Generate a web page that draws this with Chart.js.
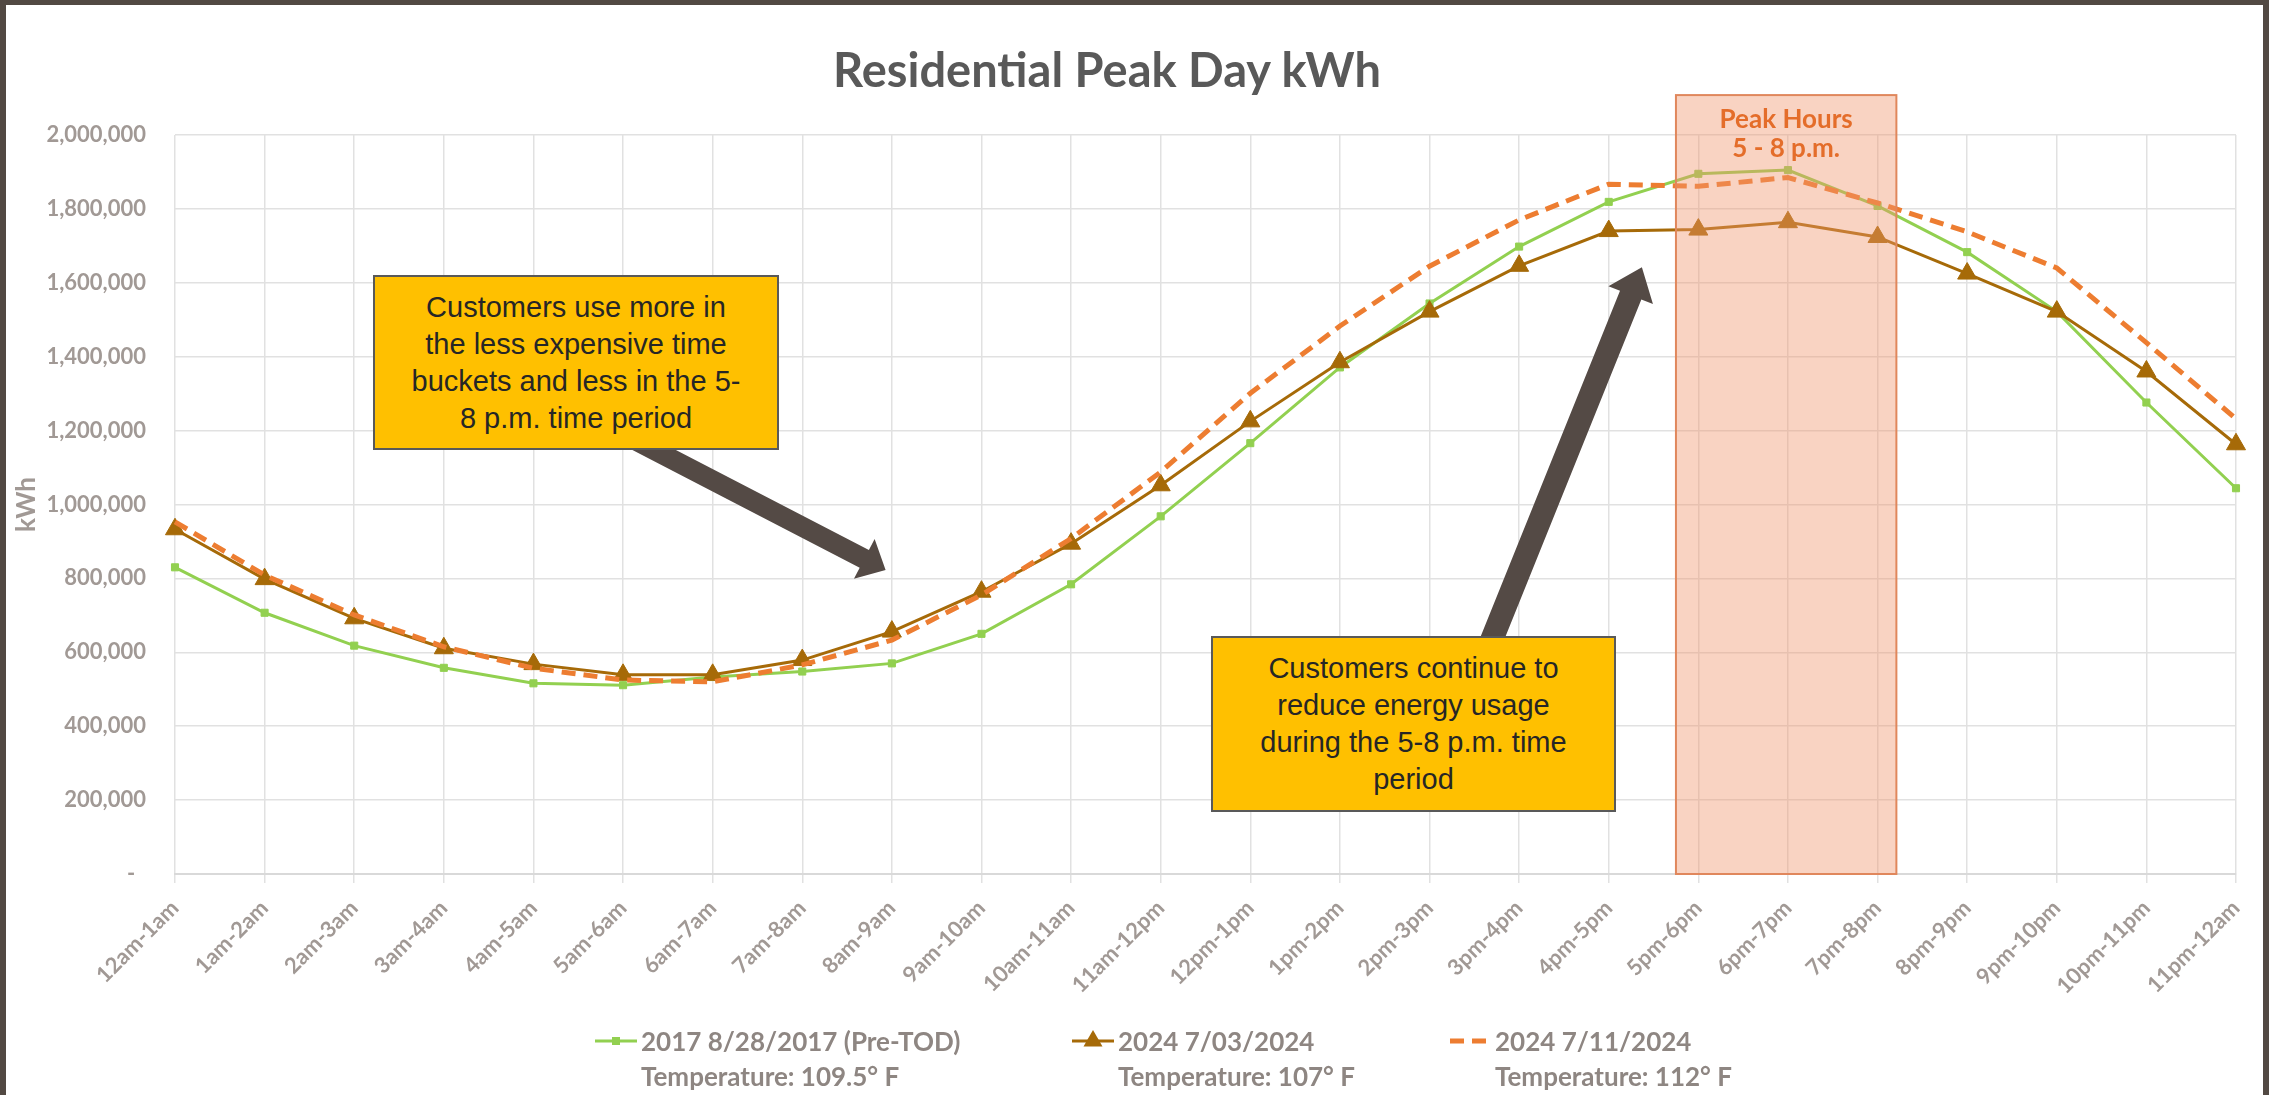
<!DOCTYPE html>
<html>
<head>
<meta charset="utf-8">
<title>Residential Peak Day kWh</title>
<script src="https://cdn.jsdelivr.net/npm/chart.js@4.4.1/dist/chart.umd.min.js"></script>
<style>
  html, body { margin: 0; padding: 0; background: #fff; }
  .page { position: relative; width: 2269px; height: 1095px; overflow: hidden; background: #fff; }
  #chart { position: absolute; left: 0; top: 0; }
  .frame {
    position: absolute; left: 0; top: 0; width: 2269px; height: 1095px;
    box-sizing: border-box; border: 6px solid #524943; border-top-width: 5px; border-bottom: none;
    pointer-events: none;
  }
  .title {
    position: absolute; left: 0; top: 46px; width: 2214px; text-align: center;
    font: bold 47px Lato, sans-serif; line-height: 47px; color: #595959;
  }
  .note {
    position: absolute; box-sizing: border-box;
    display: flex; align-items: center; justify-content: center; text-align: center;
    background: #ffc000; border: 2px solid #595959;
    font: 29px "Liberation Sans", Arial, sans-serif; line-height: 37px; color: #262626;
    white-space: nowrap;
  }
  .note1 { left: 373px; top: 275px; width: 406px; height: 175px; }
  .note2 { left: 1211px; top: 636px; width: 405px; height: 176px; }
  .legend-item { position: absolute; top: 1024px; }
  .legend-item svg { position: absolute; top: 0; }
  .legend-item .txt {
    position: absolute; top: 0; white-space: nowrap;
    font: bold 26px Lato, sans-serif; line-height: 35px; color: #8e8682;
  }
</style>
</head>
<body>
<div class="page">
  <canvas id="chart" width="2269" height="1095"></canvas>
  <div class="title">Residential Peak Day kWh</div>
  <div class="note note1">Customers use more in<br>the less expensive time<br>buckets and less in the 5-<br>8 p.m. time period</div>
  <div class="note note2">Customers continue to<br>reduce energy usage<br>during the 5-8 p.m. time<br>period</div>
  <div id="legend"></div>
  <div class="frame"></div>
</div>

<script>
/******************************************* data **/
const hours = [
  "12am-1am", "1am-2am", "2am-3am", "3am-4am", "4am-5am", "5am-6am",
  "6am-7am", "7am-8am", "8am-9am", "9am-10am", "10am-11am", "11am-12pm",
  "12pm-1pm", "1pm-2pm", "2pm-3pm", "3pm-4pm", "4pm-5pm", "5pm-6pm",
  "6pm-7pm", "7pm-8pm", "8pm-9pm", "9pm-10pm", "10pm-11pm", "11pm-12am"
];

// 2017 8/28/2017 (Pre-TOD)
const kwh2017 = [
  830000, 707000, 618000, 558000, 516000, 511000, 533000, 548000, 570000, 650000, 784000, 968000,
  1166000, 1371000, 1544000, 1698000, 1819000, 1895000, 1905000, 1808000, 1683000, 1522000, 1276000, 1044000
];

// 2024 7/03/2024
const kwhJul03 = [
  933000, 798000, 692000, 611000, 568000, 539000, 539000, 579000, 656000, 764000, 894000, 1052000,
  1225000, 1385000, 1522000, 1646000, 1740000, 1744000, 1764000, 1724000, 1625000, 1522000, 1360000, 1163000
];

// 2024 7/11/2024
const kwhJul11 = [
  953000, 809000, 701000, 615000, 557000, 525000, 520000, 566000, 633000, 755000, 908000, 1088000,
  1301000, 1483000, 1645000, 1770000, 1867000, 1861000, 1885000, 1816000, 1738000, 1640000, 1438000, 1232000
];

const seriesNames = ["2017 8/28/2017 (Pre-TOD)", "2024 7/03/2024", "2024 7/11/2024"];
const temperatures = ["Temperature: 109.5° F", "Temperature: 107° F", "Temperature: 112° F"];

const yMax = 2000000;
const yStep = 200000;

/******************************************* annotations (in axis units) **/
// shaded peak window, category index range
const peakBand = { from: 16.75, to: 19.21, top: 2108000, label: ["Peak Hours", "5 - 8 p.m."] };

// arrows: start/tip in [category index, kWh]
const arrows = [
  { start: [4.93, 1200000], tip: [7.93, 823000], shaft: 20, headW: 45, headL: 24 },
  { start: [14.54, 541000], tip: [16.37, 1642000], shaft: 23, headW: 48, headL: 30 }
];

/******************************************* styles **/
const gridColor = "#e1e1e1";
const tickColor = "#a19995";
const colors = { green: "#92d050", brown: "#a66a08", orange: "#ed7d31", arrow: "#544a45" };

/******************************************* plugins **/
function drawArrow(ctx, sx, sy, tx, ty, shaft, headW, headL) {
  const len = Math.hypot(tx - sx, ty - sy);
  const ux = (tx - sx) / len, uy = (ty - sy) / len;
  const nx = -uy, ny = ux;
  const bx = tx - ux * headL, by = ty - uy * headL;
  ctx.beginPath();
  ctx.moveTo(sx + nx * shaft / 2, sy + ny * shaft / 2);
  ctx.lineTo(bx + nx * shaft / 2, by + ny * shaft / 2);
  ctx.lineTo(bx + nx * headW / 2, by + ny * headW / 2);
  ctx.lineTo(tx, ty);
  ctx.lineTo(bx - nx * headW / 2, by - ny * headW / 2);
  ctx.lineTo(bx - nx * shaft / 2, by - ny * shaft / 2);
  ctx.lineTo(sx - nx * shaft / 2, sy - ny * shaft / 2);
  ctx.closePath();
  ctx.fill();
}

const overlayPlugin = {
  id: "overlay",
  afterDatasetsDraw(chart) {
    const { ctx, scales: { x, y } } = chart;
    const x0 = x.getPixelForValue(peakBand.from);
    const x1 = x.getPixelForValue(peakBand.to);
    const y0 = y.getPixelForValue(peakBand.top);
    const y1 = y.getPixelForValue(0);

    ctx.save();
    // peak window
    ctx.fillStyle = "rgba(240, 150, 110, 0.42)";
    ctx.fillRect(x0, y0, x1 - x0, y1 - y0);
    ctx.strokeStyle = "#e0875c";
    ctx.lineWidth = 2;
    ctx.strokeRect(x0, y0, x1 - x0, y1 - y0);

    ctx.fillStyle = "#e46d2a";
    ctx.font = "bold 26px Lato, sans-serif";
    ctx.textAlign = "center";
    ctx.textBaseline = "alphabetic";
    const cx = (x0 + x1) / 2;
    ctx.fillText(peakBand.label[0], cx, y0 + 33);
    ctx.fillText(peakBand.label[1], cx, y0 + 62);

    // arrows
    ctx.fillStyle = colors.arrow;
    arrows.forEach((a) => {
      drawArrow(
        ctx,
        x.getPixelForValue(a.start[0]), y.getPixelForValue(a.start[1]),
        x.getPixelForValue(a.tip[0]), y.getPixelForValue(a.tip[1]),
        a.shaft, a.headW, a.headL
      );
    });
    ctx.restore();
  }
};

/******************************************* chart **/
const ctx = document.getElementById("chart");

const myChart = new Chart(ctx, {
  type: "line",
  data: {
    labels: hours,
    datasets: [
      {
        label: seriesNames[0],
        data: kwh2017,
        borderColor: colors.green,
        backgroundColor: colors.green,
        borderWidth: 3,
        pointStyle: "rect",
        pointRadius: 5,
        pointBorderWidth: 1,
        order: 2
      },
      {
        label: seriesNames[1],
        data: kwhJul03,
        borderColor: colors.brown,
        backgroundColor: colors.brown,
        borderWidth: 3,
        pointStyle: "triangle",
        pointRadius: 11,
        pointBorderWidth: 1,
        order: 1
      },
      {
        label: seriesNames[2],
        data: kwhJul11,
        borderColor: colors.orange,
        backgroundColor: colors.orange,
        borderWidth: 5,
        borderDash: [14, 8],
        pointRadius: 0,
        order: 0
      }
    ]
  },
  options: {
    responsive: false,
    animation: false,
    devicePixelRatio: 1,
    layout: { padding: { top: 135, right: 33, left: 0, bottom: 0 } },
    plugins: {
      legend: { display: false },
      title: { display: false },
      tooltip: { enabled: false }
    },
    scales: {
      x: {
        offset: false,
        grid: { color: gridColor, lineWidth: 1.5, drawTicks: true, tickLength: 9 },
        border: { color: "#d9d9d9", width: 2 },
        ticks: {
          autoSkip: false,
          maxRotation: 45,
          minRotation: 45,
          padding: 12,
          color: tickColor,
          font: { family: "Lato", weight: "bold", size: 22 }
        },
        afterFit(scale) { scale.height = 221; }
      },
      y: {
        min: 0,
        max: yMax,
        grid: { color: gridColor, lineWidth: 1.5, drawTicks: false },
        border: { display: false },
        ticks: {
          stepSize: yStep,
          padding: 29,
          color: tickColor,
          font: { family: "Lato", weight: "bold", size: 22 },
          callback: (value) => (value === 0 ? "-  " : value.toLocaleString("en-US"))
        },
        title: {
          display: true,
          text: "kWh",
          color: tickColor,
          font: { family: "Lato", weight: "bold", size: 26 },
          padding: { top: 11, bottom: 0 }
        },
        afterFit(scale) { scale.width = 175; }
      }
    }
  },
  plugins: [overlayPlugin]
});

/******************************************* legend **/
const legendLeft = [595, 1072, 1449];
const legendTextLeft = [641, 1118, 1495];
const legend = document.getElementById("legend");

function markerSvg(i) {
  const w = legendTextLeft[i] - legendLeft[i] - 4;
  const cy = 17;
  let svg = `<svg width="${w}" height="34" viewBox="0 0 ${w} 34">`;
  if (i === 0) {
    svg += `<line x1="0" y1="${cy}" x2="${w}" y2="${cy}" stroke="${colors.green}" stroke-width="3"/>`;
    svg += `<rect x="${w / 2 - 4}" y="${cy - 4}" width="8" height="8" fill="${colors.green}"/>`;
  } else if (i === 1) {
    svg += `<line x1="0" y1="${cy}" x2="${w}" y2="${cy}" stroke="${colors.brown}" stroke-width="3"/>`;
    svg += `<polygon points="${w / 2},${cy - 11} ${w / 2 + 9.5},${cy + 5.5} ${w / 2 - 9.5},${cy + 5.5}" fill="${colors.brown}"/>`;
  } else {
    svg += `<line x1="1" y1="${cy}" x2="${w}" y2="${cy}" stroke="${colors.orange}" stroke-width="5" stroke-dasharray="14 8"/>`;
  }
  return svg + "</svg>";
}

seriesNames.forEach((name, i) => {
  const item = document.createElement("div");
  item.className = "legend-item";
  item.style.left = legendLeft[i] + "px";
  item.innerHTML =
    markerSvg(i) +
    `<div class="txt" style="left:${legendTextLeft[i] - legendLeft[i]}px">${name}<br>${temperatures[i]}</div>`;
  legend.appendChild(item);
});
</script>
</body>
</html>
